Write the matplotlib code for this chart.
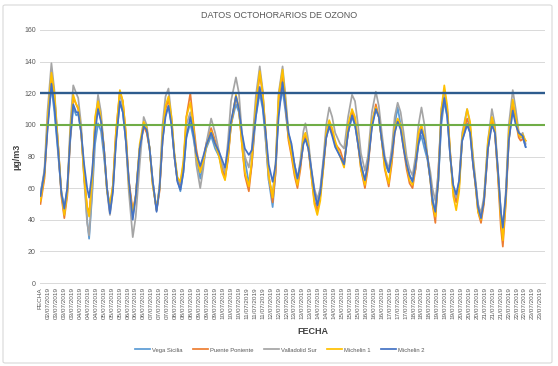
import matplotlib
matplotlib.use("Agg")
import matplotlib.pyplot as plt
from matplotlib.patches import FancyBboxPatch

plt.rcParams['font.family'] = ['Liberation Sans', 'DejaVu Sans']

# ---------------- data ----------------
hours = [0, 4, 7, 11, 14, 18, 21, 24, 27, 30,
         33, 36, 38, 41, 44, 47, 49, 52, 55, 58,
         61, 64, 67, 70, 73, 76, 80, 83, 86, 89,
         93, 96, 100, 104, 107, 110, 113, 117, 120, 123,
         126, 129, 132, 135, 138, 141, 144, 147, 151, 154,
         157, 161, 164, 167, 172, 176, 180, 183, 186, 189,
         192, 197, 200, 203, 206, 210, 213, 217, 221, 224,
         227, 230, 234, 237, 240, 244, 247, 250, 253, 256,
         259, 262, 265, 267, 270, 273, 276, 279, 282, 285,
         288, 291, 294, 297, 302, 306, 310, 314, 317, 320,
         323, 327, 330, 334, 338, 341, 344, 347, 351, 354,
         357, 360, 363, 366, 369, 372, 375, 378, 381, 384,
         387, 390, 393, 395, 398, 401, 404, 407, 410, 413,
         416, 419, 422, 425, 430, 433, 436, 439, 441, 444,
         447, 451, 455, 458, 461, 464, 466, 469, 472, 476,
         479, 482, 484, 486, 489]

vega_sicilia = [57, 70, 100, 124, 108, 80, 58, 48, 60, 90,
                111, 106, 107, 95, 70, 40, 28, 55, 88, 101,
                96, 80, 60, 48, 60, 90, 114, 108, 90, 65,
                42, 55, 85, 100, 98, 85, 65, 46, 60, 90,
                107, 112, 100, 80, 65, 58, 70, 92, 101, 92,
                80, 66, 75, 85, 93, 85, 80, 72, 68, 80,
                100, 113, 108, 92, 78, 63, 75, 105, 120, 110,
                90, 65, 48, 70, 110, 122, 108, 92, 85, 75,
                66, 75, 88, 92, 85, 70, 58, 50, 58, 75,
                92, 99, 95, 88, 80, 75, 95, 105, 100, 88,
                75, 65, 75, 100, 110, 105, 90, 76, 70, 78,
                100, 111, 100, 88, 75, 68, 65, 72, 88, 93,
                85, 78, 65, 55, 44, 65, 100, 115, 105, 80,
                60, 53, 62, 90, 101, 95, 75, 60, 48, 41,
                52, 85, 104, 95, 70, 45, 32, 55, 90, 110,
                102, 95, 92, 92, 86]

puente_poniente = [50, 66, 98, 131, 118, 85, 55, 41, 55, 92,
                   117, 113, 110, 95, 68, 48, 44, 65, 100, 112,
                   103, 85, 60, 45, 62, 95, 121, 115, 95, 65,
                   46, 55, 85, 99, 95, 85, 63, 46, 58, 90,
                   110, 116, 103, 80, 65, 62, 72, 105, 120, 102,
                   85, 71, 78, 88, 98, 90, 82, 72, 66, 78,
                   100, 118, 110, 88, 68, 58, 75, 110, 132, 120,
                   95, 68, 51, 70, 115, 132, 112, 90, 80, 68,
                   60, 72, 90, 93, 85, 68, 52, 46, 55, 72,
                   92, 101, 95, 88, 84, 76, 95, 108, 103, 88,
                   72, 60, 72, 100, 113, 105, 90, 72, 61, 75,
                   95, 103, 98, 85, 72, 63, 60, 72, 92, 98,
                   92, 80, 65, 50, 38, 72, 105, 121, 110, 82,
                   58, 51, 62, 92, 104, 98, 75, 58, 45, 38,
                   50, 85, 102, 95, 68, 35, 23, 50, 90, 113,
                   102, 92, 90, 91, 90]

valladolid_sur = [56, 72, 108, 139, 122, 85, 58, 44, 58, 100,
                  125, 120, 117, 100, 65, 38, 30, 58, 100, 119,
                  108, 85, 58, 43, 58, 90, 120, 112, 90, 58,
                  29, 42, 75, 105, 100, 85, 65, 46, 62, 100,
                  118, 123, 105, 80, 65, 63, 75, 100, 108, 98,
                  75, 60, 72, 88, 104, 95, 83, 75, 70, 90,
                  115, 130, 120, 95, 80, 73, 85, 118, 137, 122,
                  90, 65, 57, 75, 120, 137, 118, 95, 86, 75,
                  66, 78, 96, 101, 90, 72, 60, 53, 60, 78,
                  100, 111, 105, 95, 88, 85, 105, 119, 115, 100,
                  82, 71, 80, 108, 121, 112, 95, 80, 72, 85,
                  105, 114, 108, 95, 80, 72, 68, 80, 100, 111,
                  100, 80, 70, 60, 52, 70, 110, 120, 108, 80,
                  60, 54, 65, 95, 110, 100, 80, 62, 50, 44,
                  55, 90, 110, 100, 72, 45, 35, 58, 100, 122,
                  110, 96, 93, 95, 88]

michelin_1 = [52, 68, 102, 133, 120, 85, 57, 43, 57, 95,
              119, 113, 111, 96, 66, 48, 42, 65, 105, 115,
              104, 85, 58, 50, 62, 95, 122, 115, 95, 62,
              44, 55, 88, 102, 98, 85, 62, 47, 60, 95,
              112, 118, 105, 82, 67, 64, 77, 105, 114, 100,
              80, 70, 77, 86, 96, 88, 80, 70, 65, 80,
              100, 119, 110, 88, 70, 61, 78, 112, 134, 120,
              95, 68, 54, 75, 118, 135, 115, 92, 82, 70,
              62, 75, 92, 95, 87, 68, 50, 43, 52, 72,
              95, 103, 98, 90, 80, 73, 100, 110, 105, 90,
              72, 62, 75, 102, 111, 105, 90, 73, 63, 78,
              98, 104, 100, 88, 75, 65, 62, 75, 95, 100,
              92, 80, 65, 50, 42, 65, 110, 125, 112, 82,
              55, 46, 58, 92, 110, 102, 78, 58, 45, 40,
              52, 90, 105, 97, 70, 40, 27, 52, 95, 116,
              105, 94, 92, 94, 90]

michelin_2 = [55, 70, 96, 126, 112, 82, 57, 47, 60, 92,
              113, 108, 108, 95, 75, 60, 54, 70, 95, 110,
              102, 85, 60, 44, 58, 88, 115, 108, 90, 65,
              40, 55, 85, 99, 97, 85, 65, 45, 60, 90,
              105, 112, 100, 80, 64, 59, 70, 92, 105, 95,
              82, 74, 80, 87, 95, 88, 83, 78, 73, 85,
              102, 118, 110, 95, 85, 81, 84, 105, 124, 112,
              95, 75, 64, 75, 105, 127, 112, 95, 88, 75,
              66, 75, 88, 91, 85, 72, 58, 49, 57, 75,
              92, 99, 93, 86, 80, 75, 95, 106, 100, 88,
              75, 65, 75, 98, 110, 105, 90, 78, 70, 80,
              95, 102, 97, 85, 75, 68, 64, 75, 88, 97,
              90, 80, 65, 52, 45, 65, 105, 117, 105, 80,
              62, 56, 65, 90, 100, 95, 75, 60, 48, 41,
              52, 85, 100, 95, 72, 45, 35, 55, 90, 109,
              100, 95, 94, 93, 86]

series_names = ["Vega Sicilia", "Puente Poniente", "Valladolid Sur", "Michelin 1", "Michelin 2"]
series_colors = ["#5B9BD5", "#ED7D31", "#A5A5A5", "#FFC000", "#4472C4"]

limit_120 = 120
limit_100 = 100

n_categories = 509
tick_step = 8
tick_labels = (["FECHA", "02/07/2019"]
               + [f"{d:02d}/07/2019" for d in range(3, 23) for _ in range(3)]
               + ["23/07/2019", "23/07/2019"])

# ---------------- figure ----------------
W, H = 558, 366
fig = plt.figure(figsize=(W / 100, H / 100), dpi=100)
fig.patch.set_facecolor("white")

# chart border
border = FancyBboxPatch((3 / W, 3 / H), (W - 9) / W, (H - 8) / H,
                        boxstyle="round,pad=0,rounding_size=0.004",
                        transform=fig.transFigure, fill=False,
                        edgecolor="#D9D9D9", linewidth=0.8)
fig.patches.append(border)

left, right, top, bottom = 40, 545, 30, 283
ax = fig.add_axes([left / W, 1 - bottom / H, (right - left) / W, (bottom - top) / H])

all_series = [vega_sicilia, puente_poniente, valladolid_sur, michelin_1, michelin_2]
for vals, name, col in zip(all_series, series_names, series_colors):
    ax.plot(hours, vals, color=col, linewidth=1.25, label=name,
            solid_joinstyle="round", zorder=3)

ax.axhline(limit_120, color="#2E5C8E", linewidth=1.7, zorder=4)
ax.axhline(limit_100, color="#70AD47", linewidth=1.5, zorder=4)

ax.set_xlim(-0.5, n_categories - 0.5)
ax.set_ylim(0, 160)
ax.set_yticks(range(0, 161, 20))
ax.grid(axis="y", color="#D9D9D9", linewidth=0.7, zorder=0)
ax.set_axisbelow(True)
for s in ["top", "right", "left"]:
    ax.spines[s].set_visible(False)
ax.spines["bottom"].set_color("#D9D9D9")
ax.spines["bottom"].set_linewidth(0.7)

ax.set_xticks(range(0, tick_step * len(tick_labels), tick_step))
ax.set_xticklabels(tick_labels, rotation=90, fontsize=4.6, color="#595959")
ax.tick_params(axis="x", length=0, pad=3)
ax.tick_params(axis="y", length=0, labelsize=5, labelcolor="#595959", pad=3)

ax.set_ylabel("µg/m3", fontsize=6.5, fontweight="bold", color="#404040", labelpad=2)
fig.text(313 / W, 1 - 331 / H, "FECHA", fontsize=6.5, fontweight="bold",
         color="#404040", ha="center", va="center")
fig.text(279 / W, 1 - 15 / H, "DATOS OCTOHORARIOS DE OZONO", fontsize=6.5,
         color="#595959", ha="center", va="center")

fig.legend(loc="center", bbox_to_anchor=(280 / W, 1 - 350 / H), ncol=5, frameon=False,
           fontsize=4.2, handlelength=2.6, columnspacing=1.8, handletextpad=0.3,
           labelcolor="#595959")

fig.savefig("out.png", dpi=100, facecolor="white")
